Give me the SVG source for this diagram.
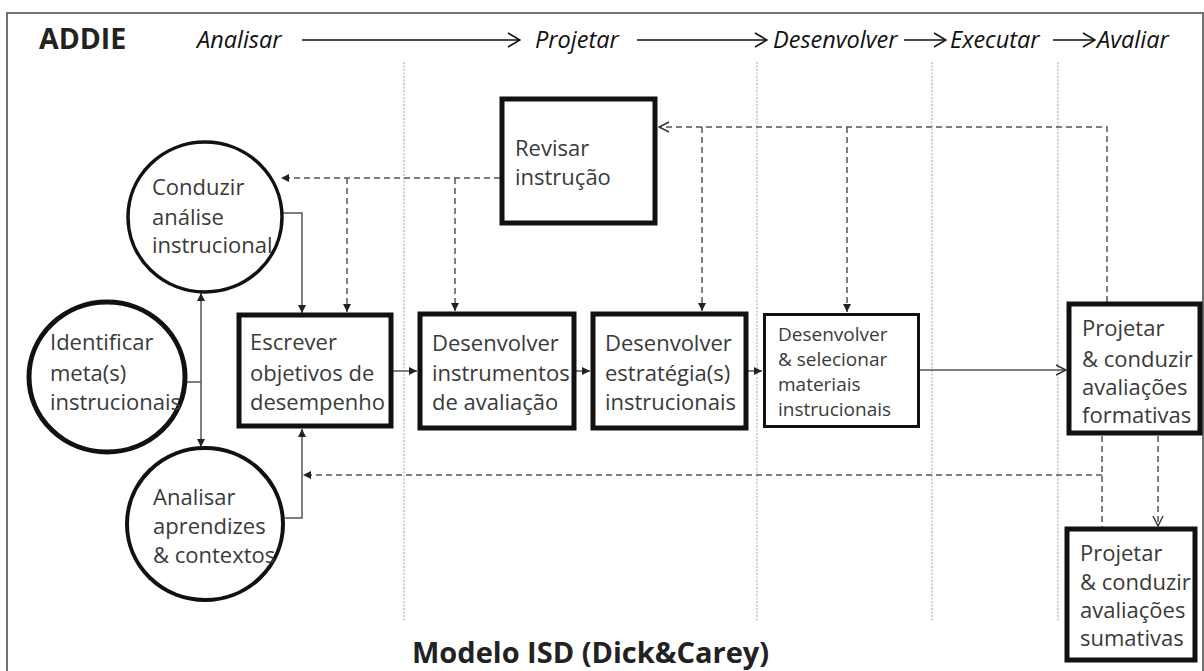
<svg xmlns="http://www.w3.org/2000/svg" width="1204" height="671" viewBox="0 0 1204 671">
<style>
.frame{fill:none;stroke:#444;stroke-width:1.5}
.sep{stroke:#c4c4c4;stroke-width:1.5;stroke-dasharray:2 1.5;fill:none}
.hdr{font-family:"Open Sans","Noto Sans",sans-serif;font-style:italic;font-size:23.5px;fill:#111}
.harr{stroke:#111;stroke-width:1.5;fill:none}
.bold{font-family:"Open Sans","Noto Sans",sans-serif;font-weight:bold;fill:#222}
.lbl{font-family:"Open Sans","Noto Sans",sans-serif;font-size:22px;fill:#3a3a3a}
.sm{font-family:"Open Sans","Noto Sans",sans-serif;font-size:19px;fill:#3a3a3a}
.box{fill:#fff;stroke:#111;stroke-width:5}
.thin{fill:#fff;stroke:#111;stroke-width:3}
.circ{fill:#fff;stroke:#111}
.sol{fill:none;stroke:#555;stroke-width:1.5}
.dash{fill:none;stroke:#555;stroke-width:1.5;stroke-dasharray:6 4}
</style>
<defs>
<marker id="fa" viewBox="0 0 10 10" refX="10" refY="5" markerWidth="8" markerHeight="8" markerUnits="userSpaceOnUse" orient="auto">
<path d="M0,0 L10,5 L0,10 Z" fill="#222"/>
</marker>
<marker id="oa" viewBox="0 0 12 12" refX="11" refY="6" markerWidth="12" markerHeight="12" markerUnits="userSpaceOnUse" orient="auto">
<path d="M1,1 L11,6 L1,11" fill="none" stroke="#333" stroke-width="1.4"/>
</marker>
<marker id="ha" viewBox="0 0 14 16" refX="13" refY="8" markerWidth="14" markerHeight="16" markerUnits="userSpaceOnUse" orient="auto">
<path d="M1,1 L13,8 L1,15" fill="none" stroke="#111" stroke-width="1.6"/>
</marker>
</defs>
<rect width="1204" height="671" fill="#fff"/>
<path class="frame" d="M7,680 V13 H1203 V680"/>

<g id="separators">
<line class="sep" x1="404" y1="62" x2="404" y2="622"/>
<line class="sep" x1="757" y1="62" x2="757" y2="622"/>
<line class="sep" x1="932" y1="62" x2="932" y2="622"/>
<line class="sep" x1="1058" y1="62" x2="1058" y2="622"/>
</g>

<g id="header">
<text class="bold" x="39" y="49" font-size="28.5">ADDIE</text>
<text class="hdr" x="197" y="48">Analisar</text>
<text class="hdr" x="535" y="48">Projetar</text>
<text class="hdr" x="773" y="48">Desenvolver</text>
<text class="hdr" x="950" y="48">Executar</text>
<text class="hdr" x="1097" y="48">Avaliar</text>
<line class="harr" x1="302" y1="40" x2="520" y2="40" marker-end="url(#ha)"/>
<line class="harr" x1="637" y1="40" x2="767" y2="40" marker-end="url(#ha)"/>
<line class="harr" x1="904" y1="40" x2="946" y2="40" marker-end="url(#ha)"/>
<line class="harr" x1="1053" y1="40" x2="1095" y2="40" marker-end="url(#ha)"/>
</g>

<g id="connectors">
<path class="sol" d="M283,213 H302 V313" marker-end="url(#fa)"/>
<path class="sol" d="M185,382 H201"/>
<path class="sol" d="M201,382 V293" marker-end="url(#fa)"/>
<path class="sol" d="M201,382 V447" marker-end="url(#fa)"/>
<path class="sol" d="M285,518 H302 V429" marker-end="url(#fa)"/>
<path class="sol" d="M392,371 H417" marker-end="url(#fa)"/>
<path class="sol" d="M576,371 H590" marker-end="url(#fa)"/>
<path class="sol" d="M748,371 H762" marker-end="url(#fa)"/>
<path class="sol" d="M920,370 H1066" marker-end="url(#oa)"/>
<path class="dash" d="M500,178 H281" marker-end="url(#fa)"/>
<path class="dash" d="M347,178 V312" marker-end="url(#fa)"/>
<path class="dash" d="M455,178 V311" marker-end="url(#fa)"/>
<path class="dash" d="M1107,302 V127 H659" marker-end="url(#oa)"/>
<path class="dash" d="M702,127 V311" marker-end="url(#fa)"/>
<path class="dash" d="M847,127 V312" marker-end="url(#fa)"/>
<path class="dash" d="M1102,436 V527"/>
<path class="dash" d="M1102,475 H303" marker-end="url(#fa)"/>
<path class="dash" d="M1158,436 V526" marker-end="url(#oa)"/>
</g>

<g id="conduzir">
<ellipse class="circ" cx="205" cy="217" rx="77" ry="75" stroke-width="3.5"/>
<text class="lbl"><tspan x="152" y="195">Conduzir</tspan><tspan x="152" y="225">análise</tspan><tspan x="152" y="253">instrucional</tspan></text>
</g>
<g id="identificar">
<ellipse class="circ" cx="107" cy="377" rx="78" ry="75" stroke-width="5"/>
<text class="lbl"><tspan x="50" y="350">Identificar</tspan><tspan x="50" y="381">meta(s)</tspan><tspan x="50" y="410">instrucionais</tspan></text>
</g>
<g id="analisar">
<ellipse class="circ" cx="205" cy="524" rx="78" ry="76" stroke-width="4"/>
<text class="lbl"><tspan x="153" y="505">Analisar</tspan><tspan x="153" y="534">aprendizes</tspan><tspan x="153" y="563">&amp; contextos</tspan></text>
</g>
<g id="revisar">
<rect class="box" x="502" y="99" width="153" height="124"/>
<text class="lbl"><tspan x="515" y="156">Revisar</tspan><tspan x="515" y="185">instrução</tspan></text>
</g>
<g id="escrever">
<rect class="box" x="239" y="315" width="152" height="111"/>
<text class="lbl"><tspan x="250" y="350">Escrever</tspan><tspan x="250" y="381">objetivos de</tspan><tspan x="250" y="410">desempenho</tspan></text>
</g>
<g id="instrumentos">
<rect class="box" x="420" y="314" width="154" height="114"/>
<text class="lbl"><tspan x="432" y="351">Desenvolver</tspan><tspan x="432" y="381">instrumentos</tspan><tspan x="432" y="410">de avaliação</tspan></text>
</g>
<g id="estrategias">
<rect class="box" x="593" y="314" width="153" height="114"/>
<text class="lbl"><tspan x="605" y="351">Desenvolver</tspan><tspan x="605" y="381">estratégia(s)</tspan><tspan x="605" y="410">instrucionais</tspan></text>
</g>
<g id="materiais">
<rect class="thin" x="764.5" y="314.5" width="154" height="112"/>
<text class="sm"><tspan x="778" y="341">Desenvolver</tspan><tspan x="778" y="366">&amp; selecionar</tspan><tspan x="778" y="391">materiais</tspan><tspan x="778" y="416">instrucionais</tspan></text>
</g>
<g id="formativas">
<rect class="box" x="1069" y="304" width="131" height="129"/>
<text class="lbl"><tspan x="1082" y="336">Projetar</tspan><tspan x="1082" y="367">&amp; conduzir</tspan><tspan x="1082" y="395">avaliações</tspan><tspan x="1082" y="423">formativas</tspan></text>
</g>
<g id="sumativas">
<rect class="box" x="1067" y="529" width="128" height="131"/>
<text class="lbl"><tspan x="1080" y="561">Projetar</tspan><tspan x="1080" y="590">&amp; conduzir</tspan><tspan x="1080" y="618">avaliações</tspan><tspan x="1080" y="646">sumativas</tspan></text>
</g>
<text class="bold" x="412" y="663" font-size="29">Modelo ISD (Dick&amp;Carey)</text>
</svg>
